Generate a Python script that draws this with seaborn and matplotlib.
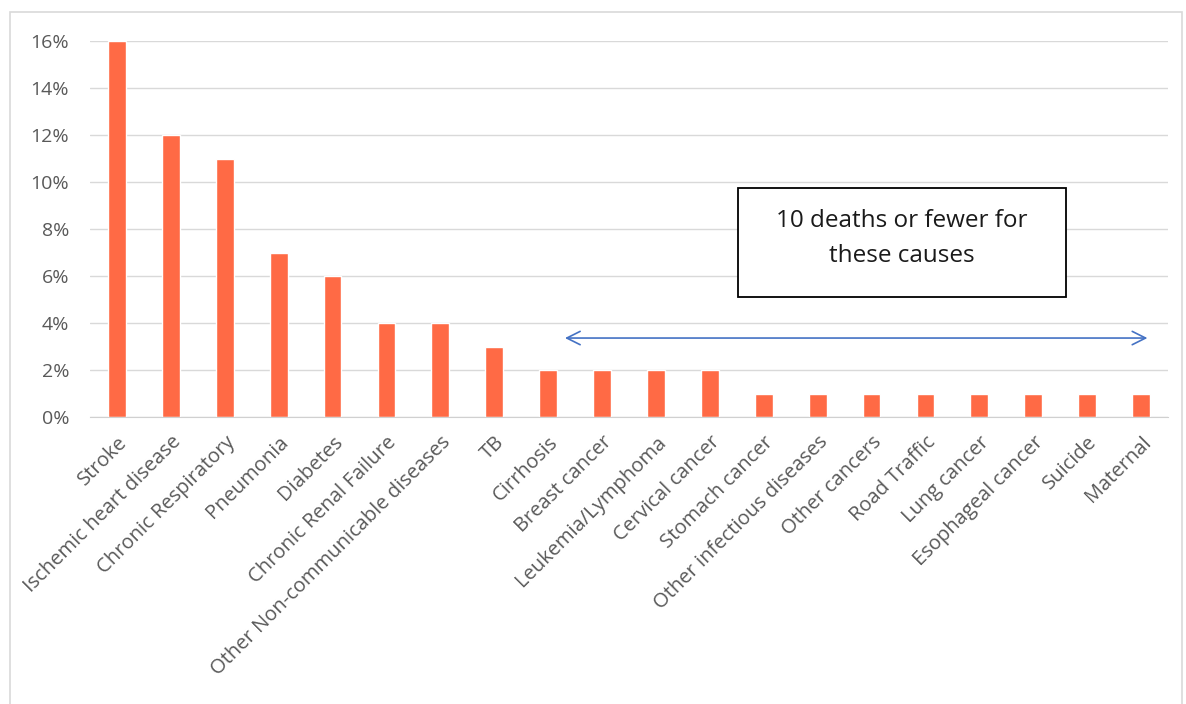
import matplotlib
matplotlib.use("Agg")
import matplotlib.pyplot as plt
import seaborn as sns
import pandas as pd
from matplotlib.patches import Rectangle
from matplotlib.ticker import FuncFormatter

causes = ["Stroke", "Ischemic heart disease", "Chronic Respiratory", "Pneumonia",
          "Diabetes", "Chronic Renal Failure", "Other Non-communicable diseases",
          "TB", "Cirrhosis", "Breast cancer", "Leukemia/Lymphoma", "Cervical cancer",
          "Stomach cancer", "Other infectious diseases", "Other cancers",
          "Road Traffic", "Lung cancer", "Esophageal cancer", "Suicide", "Maternal"]
share = [16, 12, 11, 7, 6, 4, 4, 3, 2, 2, 2, 2, 1, 1, 1, 1, 1, 1, 1, 1]

df = pd.DataFrame({"cause": causes, "share": share})

sns.set_style("white")
plt.rcParams["font.family"] = ["Open Sans", "DejaVu Sans"]

fig = plt.figure(figsize=(11.86, 7.04), dpi=100)
ax = fig.add_axes([90 / 1186, 1 - 417 / 704, (1168 - 90) / 1186, (417 - 41) / 704])

sns.barplot(data=df, x="cause", y="share", color="#FF6A45", width=0.33,
            saturation=1, ax=ax)

ax.set_ylim(0, 16)
ax.set_xlim(-0.5, len(causes) - 0.5)
ax.set_yticks(range(0, 17, 2))
ax.yaxis.set_major_formatter(FuncFormatter(lambda v, p: f"{v:.0f}%"))
ax.yaxis.grid(True, color="#D9D9D9", linewidth=1)
ax.set_axisbelow(True)
for s in ["top", "right", "left"]:
    ax.spines[s].set_visible(False)
ax.spines["bottom"].set_color("#D0D0D0")
ax.set_xlabel("")
ax.set_ylabel("")
ax.tick_params(axis="both", length=0, colors="#595959", labelsize=14)
ax.tick_params(axis="x", labelsize=14.5, pad=11)
ax.tick_params(axis="y", pad=15)
plt.setp(ax.get_xticklabels(), rotation=45, ha="right", rotation_mode="anchor")

# annotation box and arrow
ax.annotate("", xy=(19.17, 3.36), xytext=(8.26, 3.36),
            arrowprops=dict(arrowstyle="<->", color="#4472C4", lw=1.2,
                            mutation_scale=24))
ax.add_patch(Rectangle((11.52, 5.1), 6.09, 4.64, facecolor="white",
                       edgecolor="black", lw=1.3, zorder=5))
ax.text(14.56, 7.6, "10 deaths or fewer for\nthese causes", ha="center",
        va="center", fontsize=17.5, color="#1A1A1A", linespacing=1.65, zorder=6)

# outer frame
fig.patches.append(Rectangle((10 / 1186, -0.05), (1182 - 10) / 1186, 1.05 - 12 / 704,
                             transform=fig.transFigure, fill=False,
                             edgecolor="#D9D9D9", lw=1.2))

fig.savefig("out.png", dpi=100)
